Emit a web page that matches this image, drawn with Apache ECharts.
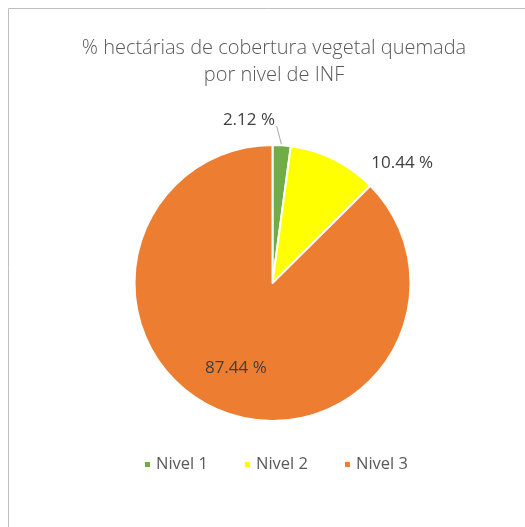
<!DOCTYPE html>
<html>
<head>
<meta charset="utf-8">
<script src="https://cdn.jsdelivr.net/npm/echarts@6/dist/echarts.min.js"></script>
<style>
html,body{margin:0;padding:0;background:#fff;}
#chart{width:525px;height:527px;}
</style>
</head>
<body>
<div id="chart"></div>
<script>
const titleText = "% hectárias de cobertura vegetal quemada\npor nivel de INF";
const categories = ["Nivel 1", "Nivel 2", "Nivel 3"];
const values = [2.12, 10.44, 87.44];
const colors = ["#70AD47", "#FFFF00", "#ED7D31"];

const chart = echarts.init(document.getElementById('chart'), null, {renderer: 'canvas'});
const fontFam = '"Open Sans", "Segoe UI", sans-serif';

const data = categories.map((name, i) => {
  const d = {name: name, value: values[i], itemStyle: {color: colors[i]}};
  if (i === 0) {
    d.label = {position: 'outside'};
    d.labelLine = {show: true, length: 18, length2: 0, lineStyle: {color: '#a6a6a6', width: 1}};
  } else if (i === 1) {
    d.label = {position: 'outside'};
    d.labelLine = {show: false, length: 10, length2: 0};
  } else {
    d.label = {position: 'inside'};
    d.labelLine = {show: false};
  }
  return d;
});

// label offsets (relative nudges from the library's own label placement)
const labelShift = [[-65, -7], [28, 13], [-9, 19]];

chart.setOption({
  animation: false,
  backgroundColor: '#fff',
  title: {
    text: titleText,
    left: 269,
    top: 30,
    textAlign: 'center',
    textStyle: {
      fontFamily: fontFam,
      fontWeight: 300,
      fontSize: 20,
      color: '#595959',
      lineHeight: 27
    }
  },
  legend: {
    data: categories,
    top: 451,
    left: 138,
    icon: 'rect',
    itemWidth: 7,
    itemHeight: 7,
    itemGap: 35,
    textStyle: {fontFamily: fontFam, fontSize: 16.5, color: '#595959'}
  },
  graphic: [{
    type: 'rect',
    shape: {x: 8.5, y: 8.5, width: 700, height: 700},
    style: {fill: 'none', stroke: '#bfbfbf', lineWidth: 1},
    silent: true
  }],
  series: [{
    type: 'pie',
    center: [272.5, 283],
    radius: 138,
    startAngle: 90,
    clockwise: true,
    avoidLabelOverlap: false,
    itemStyle: {borderColor: '#fff', borderWidth: 2},
    label: {
      formatter: '{c} %',
      fontFamily: fontFam,
      fontSize: 17,
      color: '#404040'
    },
    labelLayout: function (params) {
      const s = labelShift[params.dataIndex];
      const out = {dx: s[0], dy: s[1]};
      if (params.dataIndex === 0 && params.labelLinePoints) {
        const p0 = params.labelLinePoints[0];
        out.labelLinePoints = [p0, [p0[0] - 5, p0[1] - 19]];
      }
      return out;
    },
    data: data
  }]
});
</script>
</body>
</html>
